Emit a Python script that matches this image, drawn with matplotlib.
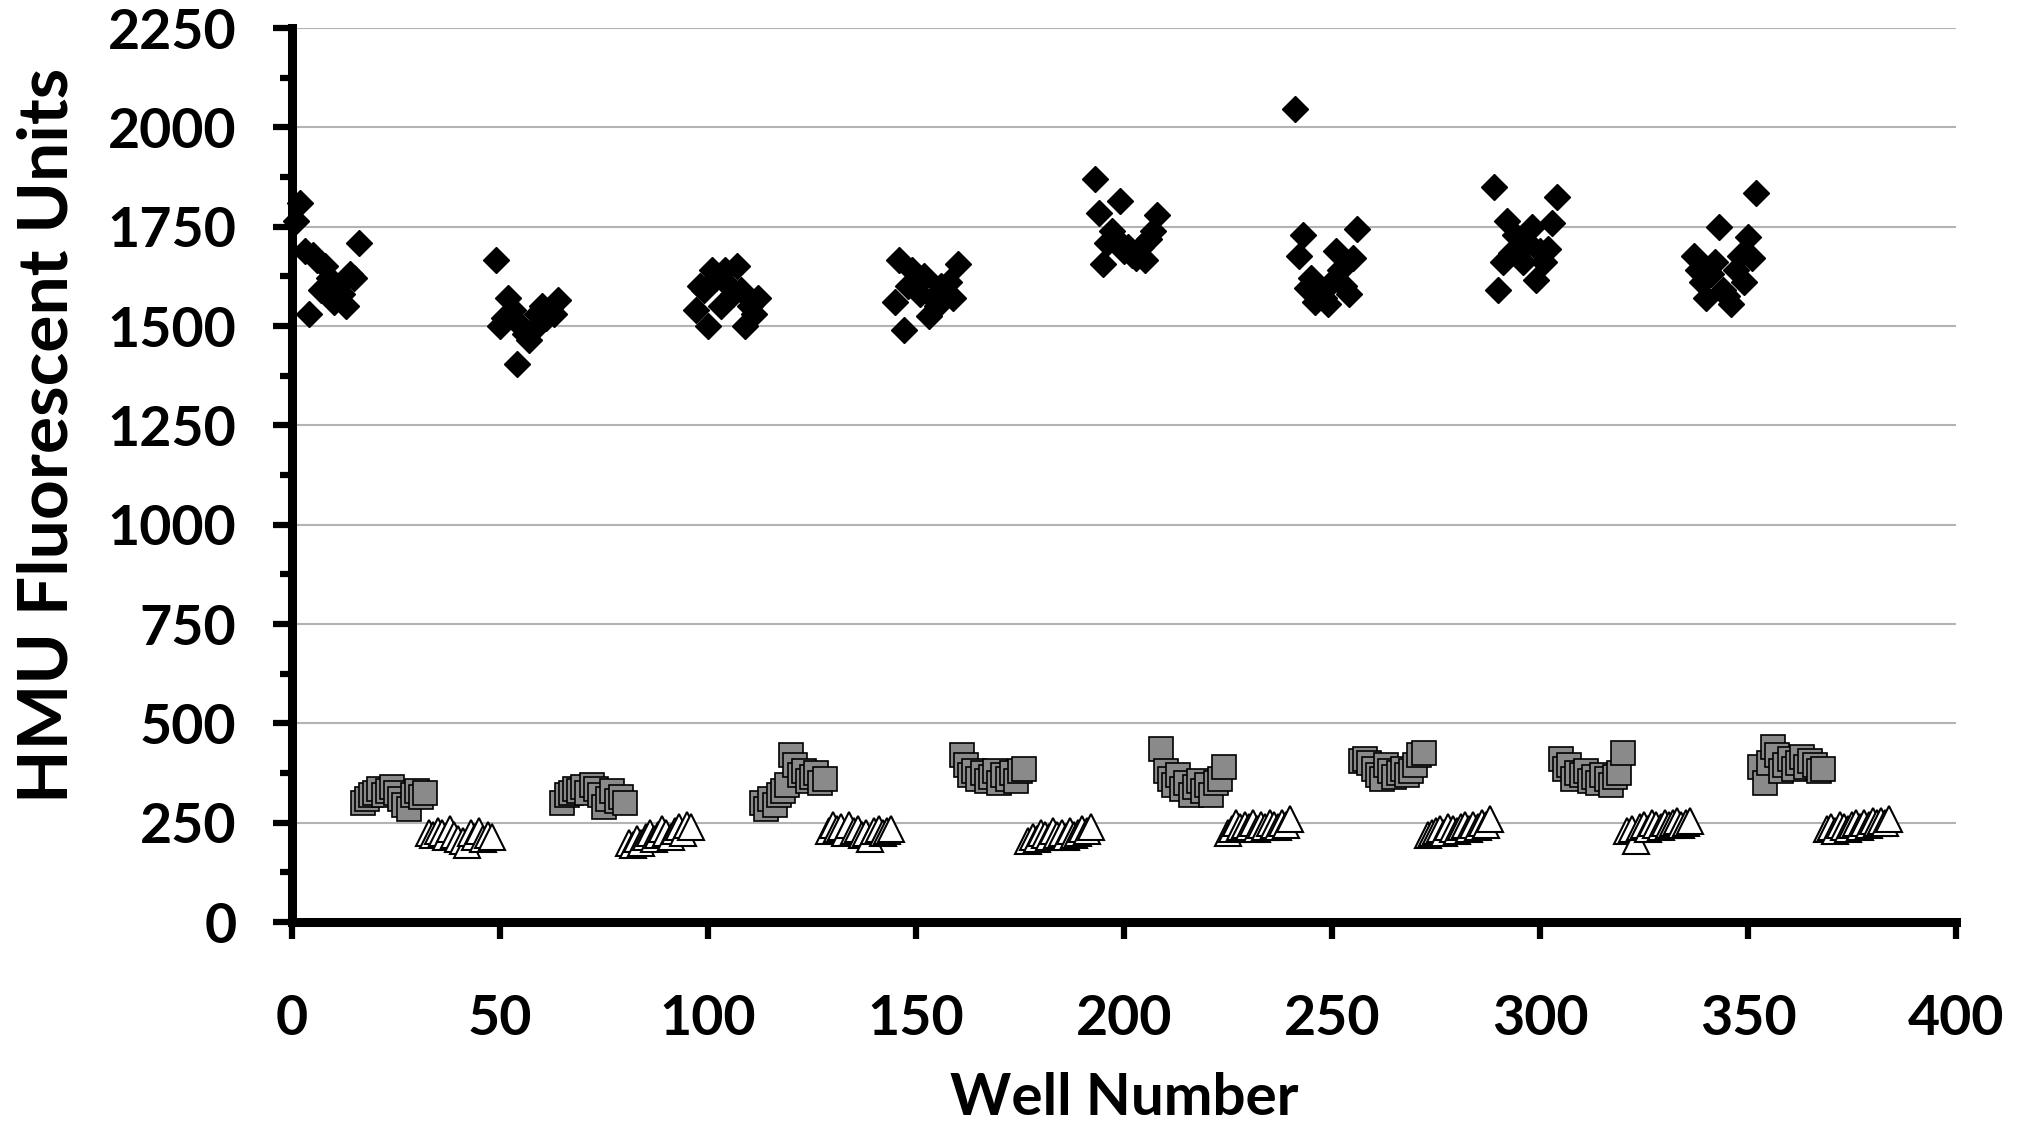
import numpy as np
import matplotlib
matplotlib.use('Agg')
import matplotlib.pyplot as plt
from matplotlib.ticker import MultipleLocator

# 384-well plate read column by column (16 wells each); columns cycle
# diamond / square / triangle, so each series starts every 48 wells
wells_per_column = 16
diamond_starts = [1, 49, 97, 145, 193, 241, 289, 337]
square_starts = [17, 65, 113, 161, 209, 257, 305, 353]
triangle_starts = [33, 81, 129, 177, 225, 273, 321, 369]

diamond_values = [
    1765, 1810, 1690, 1530, 1680, 1665, 1590, 1650, 1620, 1560, 1600, 1580, 1550, 1630, 1620, 1710,
    1665, 1500, 1520, 1570, 1540, 1405, 1500, 1480, 1465, 1490, 1530, 1550, 1520, 1540, 1530, 1565,
    1540, 1600, 1590, 1500, 1640, 1620, 1550, 1640, 1600, 1580, 1650, 1590, 1500, 1550, 1530, 1570,
    1560, 1665, 1490, 1600, 1640, 1600, 1580, 1625, 1525, 1570, 1550, 1600, 1580, 1610, 1570, 1655,
    1870, 1785, 1655, 1710, 1740, 1720, 1815, 1690, 1700, 1680, 1670, 1700, 1665, 1720, 1740, 1780,
    2045, 1675, 1730, 1595, 1620, 1560, 1590, 1570, 1555, 1610, 1690, 1640, 1600, 1580, 1670, 1745,
    1850, 1590, 1660, 1765, 1685, 1730, 1700, 1660, 1710, 1750, 1615, 1690, 1660, 1695, 1760, 1825,
    1675, 1640, 1610, 1570, 1630, 1660, 1750, 1590, 1575, 1555, 1640, 1675, 1610, 1725, 1670, 1835,
]

square_values = [
    300, 310, 320, 325, 335, 320, 330, 340, 325, 310, 295, 285, 320, 330, 315, 325,
    300, 320, 325, 335, 330, 340, 325, 345, 335, 320, 290, 310, 330, 305, 315, 300,
    300, 285, 310, 295, 320, 330, 345, 420, 395, 370, 380, 355, 365, 375, 350, 360,
    420, 395, 370, 380, 360, 375, 355, 365, 380, 350, 370, 360, 375, 355, 380, 385,
    435, 380, 360, 345, 370, 335, 350, 320, 340, 355, 330, 345, 320, 350, 360, 390,
    405, 410, 400, 385, 370, 360, 395, 380, 365, 375, 385, 370, 380, 395, 420, 425,
    410, 385, 395, 360, 375, 370, 380, 355, 365, 350, 370, 360, 345, 365, 375, 425,
    390, 350, 400, 440, 420, 380, 395, 410, 385, 400, 415, 390, 405, 395, 380, 385,
]

triangle_values = [
    225, 220, 230, 225, 215, 235, 220, 210, 205, 195, 225, 215, 230, 210, 220, 215,
    200, 195, 210, 200, 215, 225, 210, 220, 235, 225, 215, 230, 240, 225, 245, 240,
    230, 245, 235, 240, 225, 245, 230, 235, 220, 225, 210, 230, 235, 225, 230, 235,
    205, 215, 210, 225, 220, 215, 230, 220, 225, 215, 230, 220, 225, 235, 230, 240,
    225, 235, 250, 240, 245, 240, 250, 235, 245, 240, 250, 245, 240, 250, 245, 260,
    220, 225, 230, 235, 225, 240, 235, 230, 240, 245, 235, 245, 240, 250, 245, 260,
    230, 235, 205, 240, 245, 235, 250, 245, 240, 250, 245, 250, 255, 245, 250, 255,
    235, 240, 230, 245, 240, 235, 245, 250, 240, 250, 245, 255, 250, 255, 250, 260,
]

x_ticks = [0, 50, 100, 150, 200, 250, 300, 350, 400]
y_ticks = [0, 250, 500, 750, 1000, 1250, 1500, 1750, 2000, 2250]


def wells_from(starts):
    return np.concatenate([np.arange(s, s + wells_per_column) for s in starts])


plt.rcParams['font.family'] = ['Lato', 'DejaVu Sans']
plt.rcParams['font.weight'] = 'bold'

fig = plt.figure(figsize=(20.28, 11.21), dpi=100)
ax = fig.add_axes([0.144, 0.1775, 0.8205, 0.7975])

ax.plot(wells_from(diamond_starts), diamond_values, linestyle='none', marker='D',
        markersize=13.5, color='black', clip_on=False, zorder=3)
ax.plot(wells_from(square_starts), square_values, linestyle='none', marker='s',
        markersize=17, markerfacecolor='#8a8a8a', markeredgecolor='black',
        markeredgewidth=1.2, clip_on=False, zorder=3)
ax.plot(wells_from(triangle_starts), triangle_values, linestyle='none', marker='^',
        markersize=18.5, markerfacecolor='white', markeredgecolor='black',
        markeredgewidth=1.5, clip_on=False, zorder=3)

ax.set_xlim(0, 400)
ax.set_ylim(0, 2250)
ax.set_xticks(x_ticks)
ax.set_yticks(y_ticks)
ax.yaxis.set_minor_locator(MultipleLocator(125))

ax.grid(axis='y', which='major', color='#b3b3b3', linewidth=1.5)
ax.set_axisbelow(True)

for side in ['top', 'right']:
    ax.spines[side].set_visible(False)
for side in ['left', 'bottom']:
    ax.spines[side].set_linewidth(6.5)
    ax.spines[side].set_capstyle('projecting')

ax.tick_params(axis='y', which='major', length=14, width=4.5, pad=26, labelsize=40)
ax.tick_params(axis='y', which='minor', length=9, width=4.5)
ax.tick_params(axis='x', which='major', length=12, width=4.5, pad=40, labelsize=40)

ax.set_ylabel('HMU Fluorescent Units', fontsize=50, fontweight='bold')
ax.yaxis.set_label_coords(-0.1466, 0.544)
ax.yaxis.label.set_va('center')
ax.set_xlabel('Well Number', fontsize=42, fontweight='bold')
ax.xaxis.set_label_coords(0.5, -0.197)
ax.xaxis.label.set_va('center')

fig.savefig('out.png', dpi=100)
